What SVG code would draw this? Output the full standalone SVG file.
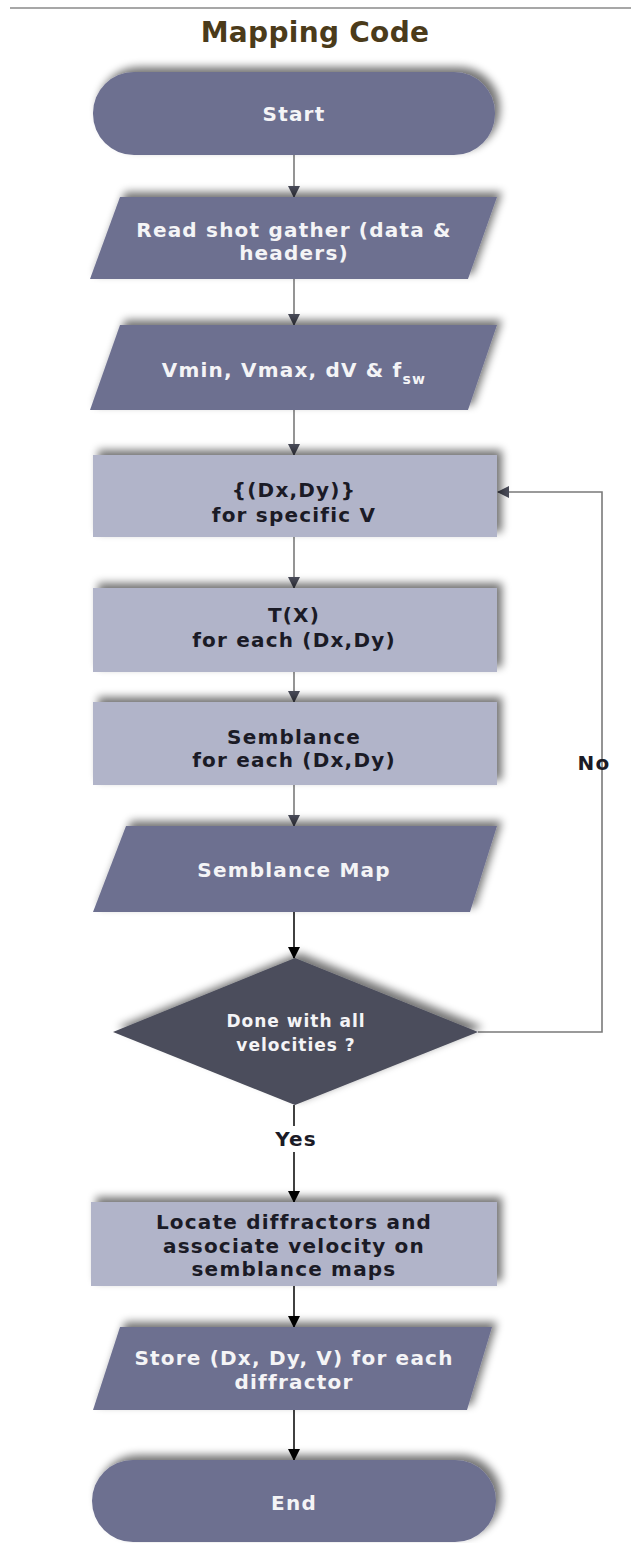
<svg xmlns="http://www.w3.org/2000/svg" width="631" height="1543" viewBox="0 0 631 1543">
<defs>
<style>
.t{font-family:"DejaVu Sans","Liberation Sans",sans-serif;font-weight:bold;text-anchor:middle;letter-spacing:1.2px}
.w{fill:#f4f4f6;font-size:20px}
.k{fill:#1b1b26;font-size:20px}
.dk{fill:#6d7090}
.lt{fill:#b1b4c9}
.dm{fill:#4b4d5b}
.ln{stroke:#7a7a7a;stroke-width:1.6;fill:none}
.lk{stroke:#111;stroke-width:1.6;fill:none}
</style>
<filter id="sh" x="-10%" y="-20%" width="125%" height="140%">
<feGaussianBlur in="SourceAlpha" stdDeviation="4"/>
<feOffset dx="5" dy="-5" result="b"/>
<feComponentTransfer><feFuncA type="linear" slope="0.55"/></feComponentTransfer>
<feMerge><feMergeNode/><feMergeNode in="SourceGraphic"/></feMerge>
</filter>
<marker id="ag" markerWidth="12" markerHeight="12" refX="11" refY="6" orient="auto" markerUnits="userSpaceOnUse">
<path d="M0,0 L12,6 L0,12 Z" fill="#4b4d5b"/>
</marker>
<marker id="ak" markerWidth="12" markerHeight="12" refX="11" refY="6" orient="auto" markerUnits="userSpaceOnUse">
<path d="M0,0 L12,6 L0,12 Z" fill="#000"/>
</marker>
</defs>
<rect width="631" height="1543" fill="#fff"/>
<line x1="10" y1="8" x2="631" y2="8" stroke="#8a8a8a" stroke-width="1.5"/>
<text x="315" y="42" class="t" style="font-size:28px;fill:#4b3b1a;letter-spacing:0.3px">Mapping Code</text>

<g id="connectors">
<line class="ln" x1="294" y1="155" x2="294" y2="197" marker-end="url(#ag)"/>
<line class="ln" x1="294" y1="279" x2="294" y2="325" marker-end="url(#ag)"/>
<line class="ln" x1="294" y1="410" x2="294" y2="455" marker-end="url(#ag)"/>
<line class="ln" x1="294" y1="537" x2="294" y2="588" marker-end="url(#ag)"/>
<line class="ln" x1="294" y1="672" x2="294" y2="702" marker-end="url(#ag)"/>
<line class="ln" x1="294" y1="785" x2="294" y2="826" marker-end="url(#ag)"/>
<line class="lk" x1="294" y1="912" x2="294" y2="958" marker-end="url(#ak)"/>
<polyline class="ln" points="478,1032 602,1032 602,492 498,492" marker-end="url(#ag)"/>
<line class="lk" x1="294" y1="1105" x2="294" y2="1126"/>
<line class="lk" x1="294" y1="1152" x2="294" y2="1202" marker-end="url(#ak)"/>
<line class="lk" x1="294" y1="1286" x2="294" y2="1327" marker-end="url(#ak)"/>
<line class="lk" x1="294" y1="1410" x2="294" y2="1460" marker-end="url(#ak)"/>
<text x="594" y="770" class="t k">No</text>
<text x="296" y="1146" class="t k">Yes</text>
</g>

<g id="start">
<rect x="93" y="72" width="402" height="83" rx="41" class="dk" filter="url(#sh)"/>
<text x="294" y="121" class="t w">Start</text>
</g>
<g id="read">
<polygon points="120,197 497,197 468,279 90,279" class="dk" filter="url(#sh)"/>
<text x="294" y="237" class="t w">Read shot gather (data &amp;</text>
<text x="294" y="260" class="t w">headers)</text>
</g>
<g id="params">
<polygon points="120,325 497,325 468,410 90,410" class="dk" filter="url(#sh)"/>
<text x="294" y="377" class="t w">Vmin, Vmax, dV &amp; f<tspan dy="7" style="font-size:14px">sw</tspan></text>
</g>
<g id="dxdy">
<rect x="93" y="455" width="404" height="82" class="lt" filter="url(#sh)"/>
<text x="294" y="497" class="t k">{(Dx,Dy)}</text>
<text x="294" y="522" class="t k">for specific V</text>
</g>
<g id="tx">
<rect x="93" y="588" width="404" height="84" class="lt" filter="url(#sh)"/>
<text x="294" y="622" class="t k">T(X)</text>
<text x="294" y="647" class="t k">for each (Dx,Dy)</text>
</g>
<g id="semblance">
<rect x="93" y="702" width="404" height="83" class="lt" filter="url(#sh)"/>
<text x="294" y="744" class="t k">Semblance</text>
<text x="294" y="767" class="t k">for each (Dx,Dy)</text>
</g>
<g id="map">
<polygon points="126,826 497,826 470,912 93,912" class="dk" filter="url(#sh)"/>
<text x="294" y="877" class="t w">Semblance Map</text>
</g>
<g id="done">
<polygon points="295,958 478,1032 295,1105 113,1032" class="dm" filter="url(#sh)"/>
<text x="296" y="1027" class="t w" style="font-size:17px;letter-spacing:1px">Done with all</text>
<text x="296" y="1051" class="t w" style="font-size:17px;letter-spacing:1px">velocities ?</text>
</g>
<g id="locate">
<rect x="91" y="1202" width="406" height="84" class="lt" filter="url(#sh)"/>
<text x="294" y="1229" class="t k">Locate diffractors and</text>
<text x="294" y="1253" class="t k">associate velocity on</text>
<text x="294" y="1276" class="t k">semblance maps</text>
</g>
<g id="store">
<polygon points="120,1327 492,1327 467,1410 93,1410" class="dk" filter="url(#sh)"/>
<text x="294" y="1365" class="t w">Store (Dx, Dy, V) for each</text>
<text x="294" y="1389" class="t w">diffractor</text>
</g>
<g id="end">
<rect x="92" y="1460" width="404" height="82" rx="41" class="dk" filter="url(#sh)"/>
<text x="294" y="1510" class="t w">End</text>
</g>
</svg>
